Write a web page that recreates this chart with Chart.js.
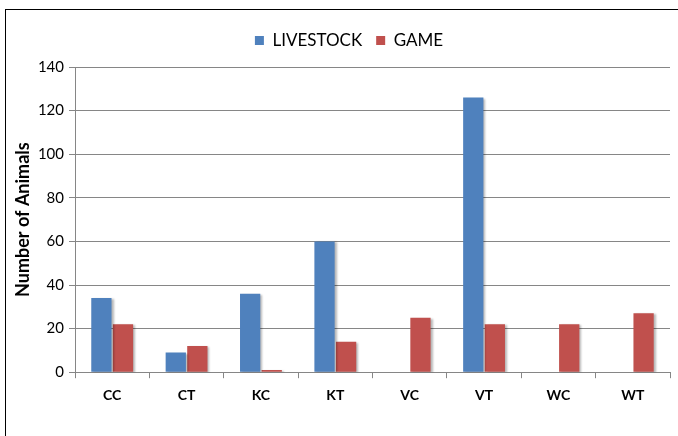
<!DOCTYPE html>
<html>
<head>
<meta charset="utf-8">
<script src="https://cdn.jsdelivr.net/npm/chart.js@4/dist/chart.umd.min.js"></script>
<style>
  html, body { margin: 0; padding: 0; background: #fff; overflow: hidden; }
  #wrap { position: absolute; left: 0; top: 0; width: 678px; height: 436px; }
  #frame { position: absolute; left: 5px; top: 9px; width: 700px; height: 460px; border: 1.5px solid #000; box-sizing: border-box; pointer-events: none; }
</style>
</head>
<body>
<div id="wrap">
  <canvas id="c" width="678" height="436"></canvas>
  <div id="frame"></div>
</div>
<script>
const categories = ['CC', 'CT', 'KC', 'KT', 'VC', 'VT', 'WC', 'WT'];
const livestock = [34, 9, 36, 60, 0, 126, 0, 0];
const game = [22, 12, 1, 14, 25, 22, 22, 27];
const yTicks = [0, 20, 40, 60, 80, 100, 120, 140];
const seriesNames = ['LIVESTOCK', 'GAME'];

const shadowPlugin = {
  id: 'barShadow',
  beforeDatasetsDraw(chart) {
    const ctx = chart.ctx;
    ctx.save();
    ctx.shadowColor = 'rgba(0,0,0,0.28)';
    ctx.shadowOffsetX = 2;
    ctx.shadowOffsetY = 1;
    ctx.shadowBlur = 2;
  },
  afterDatasetsDraw(chart) {
    chart.ctx.restore();
  }
};

const legendGap = {
  id: 'legendGap',
  beforeInit(chart) {
    const orig = chart.legend.fit;
    chart.legend.fit = function () {
      orig.call(this);
      this.height += 8;
    };
  }
};

new Chart(document.getElementById('c'), {
  type: 'bar',
  data: {
    labels: categories,
    datasets: [
      { label: seriesNames[0], data: livestock, backgroundColor: '#4F81BD', borderWidth: 0,
        categoryPercentage: 0.58, barPercentage: 0.94 },
      { label: seriesNames[1], data: game, backgroundColor: '#C0504D', borderWidth: 0,
        categoryPercentage: 0.58, barPercentage: 0.94 }
    ]
  },
  options: {
    responsive: false,
    animation: false,
    devicePixelRatio: 1,
    layout: { padding: { left: 28, right: 8, top: 18, bottom: 23 } },
    plugins: {
      legend: {
        position: 'top',
        labels: {
          boxWidth: 9, boxHeight: 9, padding: 14,
          color: '#000',
          font: { family: 'Lato, "Open Sans", sans-serif', size: 17 }
        }
      },
      tooltip: { enabled: false }
    },
    scales: {
      x: {
        grid: { display: true, drawOnChartArea: false, offset: true, color: '#868686', tickLength: 6 },
        border: { color: '#868686', width: 1 },
        ticks: { color: '#000', padding: 9, font: { family: 'Lato, "Open Sans", sans-serif', size: 14, weight: 'bold' } }
      },
      y: {
        min: 0, max: 140,
        afterBuildTicks(scale) { scale.ticks = yTicks.map(v => ({ value: v })); },
        afterFit(scale) { scale.width = 47; },
        grid: { color: '#868686', tickLength: 6 },
        border: { color: '#868686', width: 1 },
        ticks: { color: '#000', padding: 5, font: { family: 'Lato, "Open Sans", sans-serif', size: 15 } },
        title: {
          display: true, text: 'Number of Animals', color: '#000',
          padding: { top: -16, bottom: 0 },
          font: { family: 'Lato, "Open Sans", sans-serif', size: 18, weight: 'bold' }
        }
      }
    }
  },
  plugins: [shadowPlugin, legendGap]
});
</script>
</body>
</html>
